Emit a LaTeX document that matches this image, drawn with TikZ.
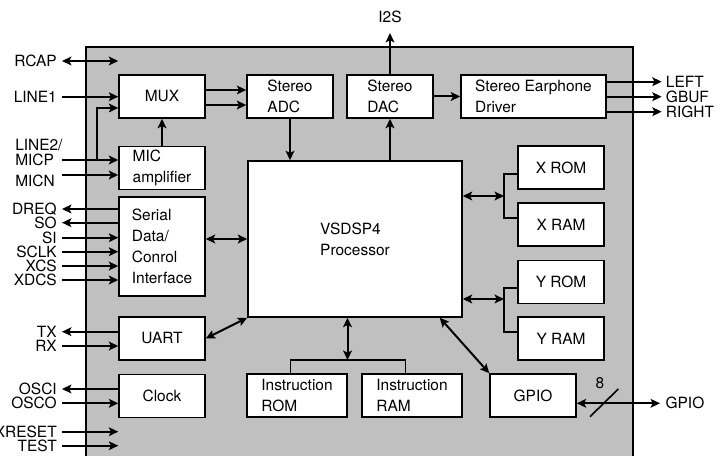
\documentclass[tikz,border=0pt]{standalone}
\usepackage{fontspec}
\setmainfont{TeX Gyre Heros}
\usetikzlibrary{arrows.meta}
\definecolor{chipgray}{RGB}{192,192,192}

\tikzset{
  blk/.style={draw=black, fill=white, line width=1.1pt, align=left, inner sep=0pt, minimum width=64.5pt, minimum height=32.25pt},
  sig/.style={anchor=east, inner xsep=3.75pt, inner ysep=0pt, text height=8.3pt, text depth=0pt},
  osig/.style={anchor=west, inner xsep=3pt, inner ysep=0pt, text height=8.3pt, text depth=0pt},
  wire/.style={line width=1.5pt},
  bus/.style={line width=1.2pt},
}

\begin{document}
\begin{tikzpicture}[x=0.75pt, y=-0.75pt, font=\fontsize{11.6}{15.6}\selectfont, >={Stealth[length=7pt, width=6.5pt, inset=1.5pt]}]
            \useasboundingbox (0,0) rectangle (726,456);
            \draw[line width=1.5pt, fill=chipgray] (86,47) rectangle (633,475);

            % blocks
            \node[blk] (mux) at (162,96.5) {MUX};
            \node[blk] (mic) at (162,168) {MIC\\amplifier};
            \node[blk, minimum height=74.25pt] (serial) at (162,246.5) {Serial\\Data/\\Conrol\\Interface};
            \node[blk] (uart) at (162,338.5) {UART};
            \node[blk] (clock) at (162,396) {Clock};
            \node[blk] (adc) at (290,96.5) {Stereo\\ADC};
            \node[blk] (dac) at (390,96.5) {Stereo\\DAC};
            \node[blk, minimum width=108.75pt] (ear) at (533.5,96.5) {Stereo Earphone\\Driver};
            \node[blk, minimum width=160.5pt, minimum height=117pt] (cpu) at (355,239) {VSDSP4\\Processor};
            \node[blk] (xrom) at (561,167.5) {X ROM};
            \node[blk] (xram) at (561,224.5) {X RAM};
            \node[blk] (yrom) at (561,282) {Y ROM};
            \node[blk] (yram) at (561,338.5) {Y RAM};
            \node[blk] (gpio) at (533,395.5) {GPIO};
            \node[blk, minimum width=75pt] (irom) at (297,395.5) {Instruction\\ROM};
            \node[blk, minimum width=75pt] (iram) at (412,395.5) {Instruction\\RAM};

            % pins
            \node[sig] (rcap) at (62,61) {RCAP};
            \node[sig] (line1) at (62,96.7) {LINE1};
            \node[sig, anchor=west, inner xsep=0pt] (line2) at (15,144.5) {LINE2/};
            \node[sig, anchor=west, inner xsep=0pt] (micp) at (15,160) {MICP};
            \node[sig, anchor=west, inner xsep=0pt] (micn) at (15,181) {MICN};
            \node[sig] (dreq) at (62,209) {DREQ};
            \node[sig] (so) at (62,222.7) {SO};
            \node[sig] (si) at (62,237.7) {SI};
            \node[sig] (sclk) at (62,251.7) {SCLK};
            \node[sig] (xcs) at (62,266) {XCS};
            \node[sig] (xdcs) at (62,280) {XDCS};
            \node[sig] (tx) at (62,331.7) {TX};
            \node[sig] (rx) at (62,346) {RX};
            \node[sig] (osci) at (62,389) {OSCI};
            \node[sig] (osco) at (62,403.3) {OSCO};
            \node[sig] (xreset) at (62,431.7) {XRESET};
            \node[sig] (test) at (62,445.7) {TEST};
            \node[osig] (lout) at (661.7,81.7) {LEFT};
            \node[osig] (gbuf) at (661.7,96.7) {GBUF};
            \node[osig] (rout) at (661.7,111.7) {RIGHT};
            \node[osig, inner xsep=4pt] (gpiox) at (660,403.3) {GPIO};
            \node[anchor=south, inner ysep=7.3pt, text height=8.3pt, text depth=0pt] (i2s) at (390,33) {I2S};
            \node (w8) at (600,383.5) {8};

            \coordinate (tap) at (96.7,160);
            \coordinate (xbus) at (504,196);
            \coordinate (ybus) at (504,299);
            \coordinate (ibus) at (347.5,360);

            % audio path
            \draw[wire, <->] (rcap.east) -- (mux.west |- rcap.east);
            \draw[wire, ->] (line1.east) -- (mux.west |- line1.east);
            \draw[wire, ->] ([yshift=6pt]mic.west -| line1.east) -- ([yshift=6pt]mic.west);
            \draw[wire, ->] ([yshift=-5.25pt]mic.west -| line1.east) -- ([yshift=-5.25pt]mic.west);
            \draw[wire, ->] (tap) |- ([yshift=-8.6pt]mux.west);
            \draw[wire, ->] (mic.north) -- (mux.south);
            \draw[wire, ->] ([yshift=4.9pt]mux.east) -- ([yshift=4.9pt]adc.west);
            \draw[wire, ->] ([yshift=-6.4pt]mux.east) -- ([yshift=-6.4pt]adc.west);
            \draw[wire, ->] (adc.south) -- (adc.south |- cpu.north);
            \draw[wire, ->] (dac.south |- cpu.north) -- (dac.south);
            \draw[wire, ->] (dac.north) -- (i2s.south);
            \draw[wire, ->] (dac.east) -- (ear.west);
            \draw[wire, ->] (ear.east |- lout.west) -- (lout.west);
            \draw[wire, ->] (ear.east |- gbuf.west) -- (gbuf.west);
            \draw[wire, ->] (ear.east |- rout.west) -- (rout.west);

            % control interface
            \draw[wire, ->] (serial.west |- dreq.east) -- (dreq.east);
            \draw[wire, ->] (serial.west |- so.east) -- (so.east);
            \draw[wire, ->] (si.east) -- (serial.west |- si.east);
            \draw[wire, ->] (sclk.east) -- (serial.west |- sclk.east);
            \draw[wire, ->] (xcs.east) -- (serial.west |- xcs.east);
            \draw[wire, ->] (xdcs.east) -- (serial.west |- xdcs.east);
            \draw[wire, <->] (cpu.west -| serial.east) -- (cpu.west);
            \draw[wire, ->] (uart.west |- tx.east) -- (tx.east);
            \draw[wire, ->] (rx.east) -- (uart.west |- rx.east);
            \draw[wire, <->] (uart.east) -- (cpu.south west);
            \draw[wire, ->] (clock.west |- osci.east) -- (osci.east);
            \draw[wire, ->] (osco.east) -- (clock.west |- osco.east);
            \draw[wire, ->] (xreset.east) -- (mux.west |- xreset.east);
            \draw[wire, ->] (test.east) -- (mux.west |- test.east);

            % memories
            \draw[wire, <->] (cpu.east |- xbus) -- (xbus);
            \draw[bus] ([yshift=-4.9pt]xrom.west) -| (xbus) |- ([yshift=4.9pt]xram.west);
            \draw[wire, <->] (cpu.east |- ybus) -- (ybus);
            \draw[bus] ([yshift=-4.5pt]yrom.west) -| (ybus) |- ([yshift=5pt]yram.west);
            \draw[wire, <->] (ibus |- cpu.south) -- (ibus);
            \draw[bus] ([xshift=-5pt]irom.north) |- (ibus) -| ([xshift=-5pt]iram.north);

            % gpio
            \draw[wire, <->] ([xshift=-17.25pt]cpu.south east) -- (gpio.north west);
            \draw[wire, <->] (gpio.east |- gpiox.west) -- (gpiox.west);
            \draw[bus] (590,416.7) -- (618.3,389);
\end{tikzpicture}
\end{document}
